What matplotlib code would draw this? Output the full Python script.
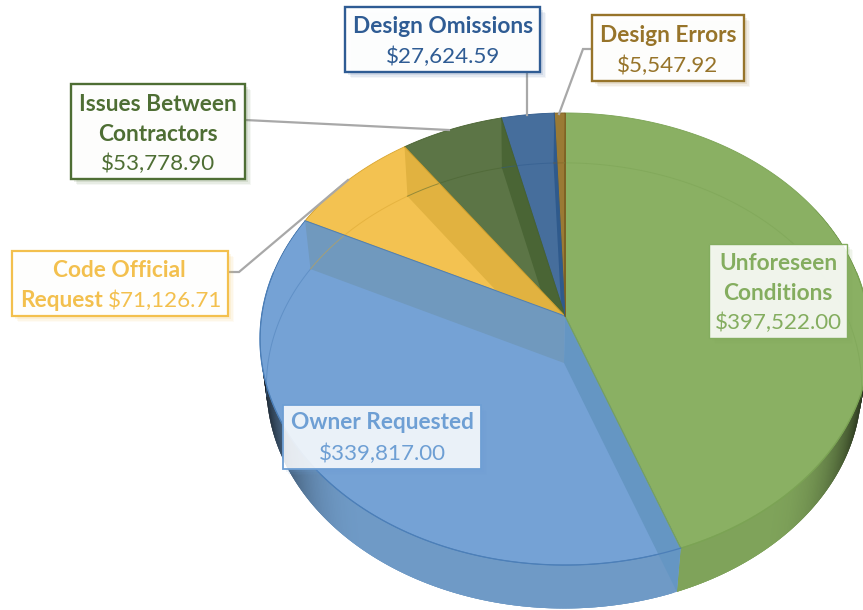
import numpy as np
import matplotlib
matplotlib.use("Agg")
import matplotlib.pyplot as plt
from matplotlib.patches import Polygon, Rectangle

plt.rcParams['font.family'] = ['Lato', 'DejaVu Sans']

categories = ["Unforeseen Conditions", "Owner Requested", "Code Official Request",
              "Issues Between Contractors", "Design Omissions", "Design Errors"]
values = [397522.00, 339817.00, 71126.71, 53778.90, 27624.59, 5547.92]
value_labels = ["$397,522.00", "$339,817.00", "$71,126.71", "$53,778.90", "$27,624.59", "$5,547.92"]
top_colors = ["#8ab063", "#75a2d5", "#f3c251", "#5c7546", "#466e9c", "#9a7a34"]
edge_colors = ["#7ba354", "#4c7fb8", "#d9a52f", "#48622f", "#2f5a8c", "#7e6224"]
side_colors = ["#7fa35a", "#6f9ac6", "#f3c251", "#5c7546", "#466e9c", "#9a7a34"]
# wall on the boundary that closes each wedge, then the one that opens the first
wall_colors = ["#6596c3", "#7099be", "#e1b240", "#4a6535", "#2f5a8c", "#7e6224"]
text_colors = ["#84ad5f", "#6e9fd4", "#f3c04e", "#4e6e34", "#2f5c94", "#97742a"]

# perspective of the pie: top face and bottom face (pixels)
K = 0.1018
TOP = dict(x0=565.0, y0=316.0, A=303.4, B=223.7)
BOT = dict(x0=564.0, y0=363.0, A=296.0, B=220.5)


def project(face, theta, r=1.0):
    X = r * np.sin(theta)
    Y = r * np.cos(theta)
    w = 1 + K * Y
    return face['x0'] + face['A'] * X / w, face['y0'] - face['B'] * Y / w


fig = plt.figure(figsize=(8.63, 6.10), dpi=100)
ax = fig.add_axes([0, 0, 1, 1])
ax.set_xlim(0, 863)
ax.set_ylim(610, 0)
ax.axis('off')

fracs = np.cumsum([0] + values) / np.sum(values)
edges = 2 * np.pi * fracs


def shaded(color, f):
    c = np.array(matplotlib.colors.to_rgb(color))
    return tuple(c * f)


# outer side wall: overlapping strips so no seams show
step = np.radians(0.5)
for i, c in enumerate(side_colors):
    a, b = edges[i], edges[i + 1]
    n = max(2, int((b - a) / step))
    th = np.linspace(a, b, n)
    for t0, t1 in zip(th[:-1], th[1:]):
        tm = (t0 + t1) / 2
        if not (np.radians(60) < tm < np.radians(300)):
            continue
        s = abs(np.sin(tm))
        f = 1 - 0.85 * np.clip((s - 0.6) / 0.4, 0, 1) ** 2.4
        t_end = min(t1 + 2 * step, b)
        xa, ya = project(TOP, np.array([t0, t_end]))
        xb, yb = project(BOT, np.array([t_end, t0]))
        ax.add_patch(Polygon(np.c_[np.r_[xa, xb], np.r_[ya, yb]], closed=True,
                             facecolor=shaded(c, f), edgecolor='none', zorder=2))

# top face wedges
wedges = []
for i, c in enumerate(top_colors):
    th = np.linspace(edges[i], edges[i + 1], 200)
    x, y = project(TOP, th)
    p = Polygon(np.c_[np.r_[TOP['x0'], x], np.r_[TOP['y0'], y]], closed=True,
                facecolor=c, edgecolor=edge_colors[i], lw=0.6, zorder=3)
    ax.add_patch(p)
    wedges.append(p)

# radial walls seen through the translucent top, each held inside its own wedge
for j in range(1, len(edges)):
    t = edges[j]
    xt, yt = project(TOP, t)
    xb, yb = project(BOT, t)
    wall = Polygon([(TOP['x0'], TOP['y0']), (xt, yt), (xb, yb), (BOT['x0'], BOT['y0'])],
                   closed=True, facecolor=wall_colors[j - 1], edgecolor='none', zorder=4)
    ax.add_patch(wall)
    if j >= 2:
        wall.set_clip_path(wedges[j - 1])
    ax.plot([TOP['x0'], xt], [TOP['y0'], yt], color=edge_colors[min(j - 1, 5)], lw=0.7, zorder=4.5)

# far rim of the bottom face seen through the top
for i, c in enumerate(edge_colors):
    th = np.linspace(edges[i], edges[i + 1], 200)
    mask = np.cos(th) > -0.16
    if mask.sum() > 1:
        x, y = project(BOT, th)
        ax.plot(x[mask], y[mask], color=c, lw=0.7, alpha=0.5, zorder=4.2)

# near rim of the top face
for i, c in enumerate(edge_colors[:2]):
    th = np.linspace(edges[i], edges[i + 1], 200)
    x, y = project(TOP, th)
    mask = np.cos(th) < 0.2
    ax.plot(x[mask], y[mask], color=c, lw=0.9, zorder=5)

# leader lines
leaders = [
    ([245, 449], [120, 130]),
    ([228, 239, 348], [272, 272, 180]),
    ([527, 527], [72, 115]),
    ([592, 583, 559], [49, 49, 114]),
]
for lx, ly in leaders:
    ax.plot(lx, ly, color='#a8a8a8', lw=1.6, zorder=6, solid_joinstyle='miter')

# label boxes: x0, y0, x1, y1, face alpha, edge width
boxes = [
    (709, 244, 847, 338, 0.88, 1.0),
    (283, 405, 481, 469, 0.86, 1.3),
    (12, 251, 228, 316, 0.96, 1.6),
    (71, 84, 245, 179, 0.96, 1.7),
    (345, 7, 540, 72, 0.96, 1.7),
    (592, 15, 744, 81, 0.96, 1.7),
]
for (x0, y0, x1, y1, al, lw), col in zip(boxes, text_colors):
    for off, sa in [(6, 0.05), (4.5, 0.08), (3, 0.12)]:
        ax.add_patch(Rectangle((x0 + off, y0 + off), x1 - x0, y1 - y0, facecolor=col,
                               alpha=sa, edgecolor='none', zorder=7))
    ax.add_patch(Rectangle((x0, y0), x1 - x0, y1 - y0, facecolor='white', alpha=al,
                           edgecolor='none', zorder=7.5))
    ax.add_patch(Rectangle((x0, y0), x1 - x0, y1 - y0, facecolor='none', edgecolor=col,
                           lw=lw, zorder=7.6))

FS_BOLD = 16.3
FS_REG = 16.1


def label(x, y, s, col, bold=False, ha='center'):
    ax.text(x, y + 1.5, s, color=col, fontsize=FS_BOLD if bold else FS_REG,
            fontweight='bold' if bold else 'normal', ha=ha, va='center', zorder=8)


label(778, 262, "Unforeseen", text_colors[0], True)
label(778, 292, "Conditions", text_colors[0], True)
label(778, 321, value_labels[0], text_colors[0])
label(382, 421, categories[1], text_colors[1], True)
label(382, 452, value_labels[1], text_colors[1])
label(119, 269, "Code Official", text_colors[2], True)
label(103, 299, "Request", text_colors[2], True, ha='right')
label(108, 299, value_labels[2], text_colors[2], ha='left')
label(158, 103, "Issues Between", text_colors[3], True)
label(158, 133, "Contractors", text_colors[3], True)
label(158, 162, value_labels[3], text_colors[3])
label(443, 25, categories[4], text_colors[4], True)
label(443, 55, value_labels[4], text_colors[4])
label(668, 34, categories[5], text_colors[5], True)
label(668, 64, value_labels[5], text_colors[5])

fig.savefig("out.png", dpi=100, facecolor='white')
